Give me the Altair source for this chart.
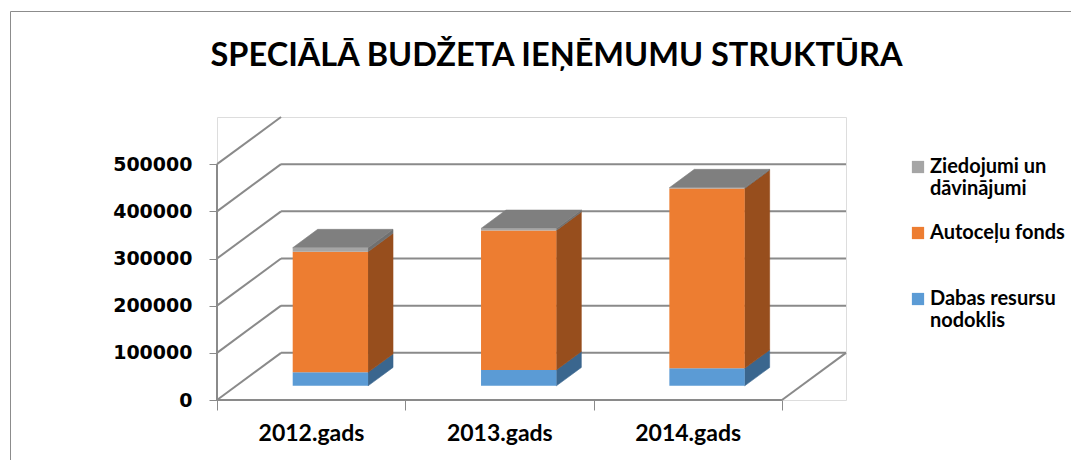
import altair as alt
import pandas as pd

# ---------------- data ----------------
years = ["2012.gads", "2013.gads", "2014.gads"]
series = ["Ziedojumi un dāvinājumi", "Autoceļu fonds", "Dabas resursu nodoklis"]
dabas_resursu = [28600, 33700, 37100]
autocelu_fonds = [255700, 295800, 381400]
ziedojumi = [8500, 4200, 1500]
y_ticks = [0, 100000, 200000, 300000, 400000, 500000]
legend_lines = {
    "Ziedojumi un dāvinājumi": ["Ziedojumi un", "dāvinājumi"],
    "Dabas resursu nodoklis": ["Dabas resursu", "nodoklis"],
}

# ---------------- styles ----------------
front_colors = ["#a5a5a5", "#ed7d31", "#5b9bd5"]
side_colors = ["#707070", "#974e1d", "#3a668e"]
top_color = "#7f7f7f"
grid_color = "#8a8a8a"

# oblique "3-D" depth (style constants, in scale units)
DEPTH_X = 0.34
DEPTH_Y = 100000
BAR_D0, BAR_D1 = 0.30, 0.69
BAR_W = 0.40

n = len(years)
stacks = list(zip(dabas_resursu, autocelu_fonds, ziedojumi))
stack_names = ["Dabas resursu nodoklis", "Autoceļu fonds", "Ziedojumi un dāvinājumi"]

front_rows, side_rows, top_rows = [], [], []
dxb = (BAR_D1 - BAR_D0) * DEPTH_X
dyb = (BAR_D1 - BAR_D0) * DEPTH_Y
for i, year in enumerate(years):
    left = i + 0.5 - BAR_W / 2 + BAR_D0 * DEPTH_X
    right = left + BAR_W
    y0 = BAR_D0 * DEPTH_Y
    base = 0
    for name, val in zip(stack_names, stacks[i]):
        k = series.index(name)
        lo, hi = base + y0, base + val + y0
        front_rows.append(dict(year=year, series=name, x=left, x2=right, y=lo, y2=hi))
        fid = f"side{i}-{k}"
        side_rows.append(dict(face=fid, col=side_colors[k], x=right, y=lo, y2=hi))
        side_rows.append(dict(face=fid, col=side_colors[k], x=right + dxb, y=lo + dyb, y2=hi + dyb))
        base += val
    t = base + y0
    for xx, a, b in [(left, t, t), (left + dxb, t, t + dyb), (right, t, t + dyb), (right + dxb, t + dyb, t + dyb)]:
        top_rows.append(dict(face=f"top{i}", x=xx, y=a, y2=b))

line_rows = []
for v in y_ticks:  # left wall diagonals
    line_rows.append(dict(x=0, y=v, x2=DEPTH_X, y2=v + DEPTH_Y))
for v in y_ticks[:-1]:  # back wall gridlines
    line_rows.append(dict(x=DEPTH_X, y=v + DEPTH_Y, x2=n + DEPTH_X, y2=v + DEPTH_Y))
line_rows.append(dict(x=n, y=0, x2=n + DEPTH_X, y2=DEPTH_Y))  # floor right edge
line_rows.append(dict(x=0, y=0, x2=n, y2=0))  # floor front edge
line_rows.append(dict(x=0, y=0, x2=0, y2=y_ticks[-1]))  # front value axis

front_df = pd.DataFrame(front_rows)
side_df = pd.DataFrame(side_rows)
top_df = pd.DataFrame(top_rows)
line_df = pd.DataFrame(line_rows)

# ---------------- scales / axes ----------------
x_scale = alt.Scale(domain=[0, n + DEPTH_X], nice=False, zero=False)
y_scale = alt.Scale(domain=[0, y_ticks[-1] + DEPTH_Y], nice=False, zero=False)

label_arr = "[" + ",".join("'" + y + "'" for y in years) + "]"
x_axis = alt.Axis(
    values=list(range(n + 1)), title=None, grid=False, domain=False,
    tickColor=grid_color, tickSize=10, tickWidth=1,
    labelExpr=f"{label_arr}[datum.value] || ''",
    labelOffset=94, labelPadding=12, labelOverlap=False, labelFlush=False, labelBound=False,
    labelFont="Lato", labelFontWeight="bold", labelFontSize=23, labelColor="#000000",
)
y_axis = alt.Axis(
    values=y_ticks, title=None, grid=False, domain=False,
    tickColor=grid_color, tickSize=8, tickWidth=1,
    labelPadding=17, labelOverlap=False, labelBound=False, labelFlush=False,
    labelFont="DejaVu Sans", labelFontWeight="bold", labelFontSize=19, labelColor="#000000",
    format="d",
)


def X(field):
    return alt.X(field, type="quantitative", scale=x_scale, axis=x_axis)


def Y(field):
    return alt.Y(field, type="quantitative", scale=y_scale, axis=y_axis, stack=None)


border = alt.Chart(pd.DataFrame({"b": [1]})).mark_rect(
    fill=None, stroke="#8c8c8c", strokeWidth=1
).encode(
    x=alt.value(-206.5), x2=alt.value(900), y=alt.value(-105.5), y2=alt.value(420)
)

lines = alt.Chart(line_df).mark_rule(color=grid_color, strokeWidth=2).encode(
    x=X("x"), x2="x2:Q", y=Y("y"), y2="y2:Q"
)

sides = alt.Chart(side_df).mark_area(orient="vertical", interpolate="linear", strokeWidth=0.6).encode(
    x=X("x"), y=Y("y"), y2="y2:Q", detail="face:N",
    fill=alt.Fill("col:N", scale=None), stroke=alt.Stroke("col:N", scale=None),
)

tops = alt.Chart(top_df).mark_area(
    orient="vertical", interpolate="linear", color=top_color, stroke=top_color, strokeWidth=0.6
).encode(
    x=X("x"), y=Y("y"), y2="y2:Q", detail="face:N"
)

legend_expr = " : ".join(
    f"datum.label == '{k}' ? [" + ",".join(f"'{p}'" for p in v) + "]" for k, v in legend_lines.items()
) + " : datum.label"

fronts = alt.Chart(front_df).mark_rect().encode(
    x=X("x"), x2="x2:Q", y=Y("y"), y2="y2:Q",
    color=alt.Color(
        "series:N",
        scale=alt.Scale(domain=series, range=front_colors),
        legend=alt.Legend(
            title=None, orient="none", legendX=691, legendY=40,
            symbolType="square", symbolSize=150, symbolStrokeWidth=0,
            labelFont="Lato", labelFontWeight="bold", labelFontSize=20, labelColor="#000000",
            labelExpr=legend_expr, labelLimit=300, rowPadding=24, gridAlign="all", padding=0,
            labelOffset=2,
        ),
    ),
)

chart = alt.layer(border, lines, sides, tops, fronts).properties(
    width=629,
    height=283,
    autosize=alt.AutoSizeParams(type="none"),
    padding={"left": 209, "top": 109, "right": 225, "bottom": 60},
    title=alt.TitleParams(
        "SPECIĀLĀ BUDŽETA IEŅĒMUMU STRUKTŪRA",
        font="Lato", fontSize=32.5, fontWeight="bold", color="#000000",
        anchor="middle", dx=25, baseline="middle", offset=-77,
    ),
).configure_view(stroke=None).configure(background="white")

chart.save("out.html", embed_options={"renderer": "svg", "actions": False})
